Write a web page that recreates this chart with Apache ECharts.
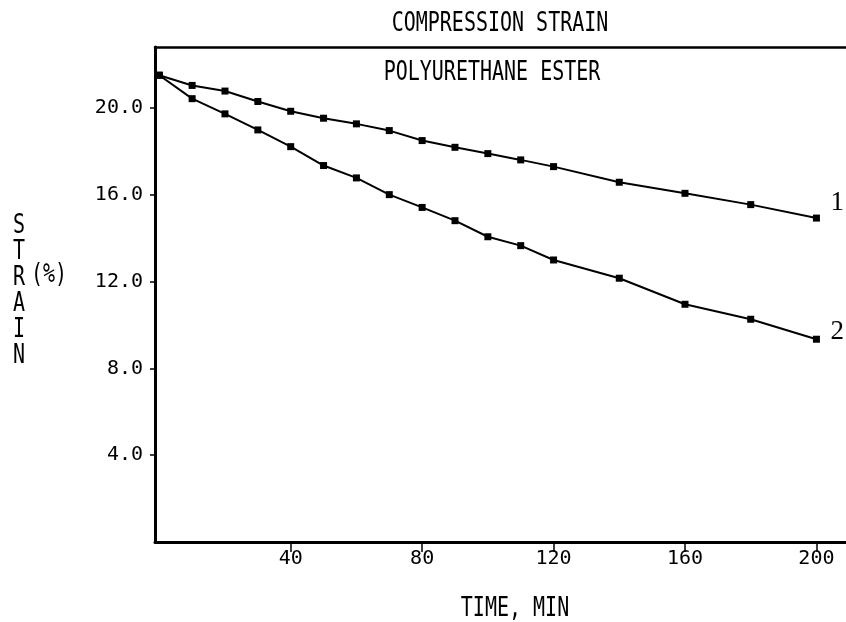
<!DOCTYPE html>
<html>
<head>
  <meta charset="utf-8" />
  <title>Compression strain</title>
  <script src="https://cdn.jsdelivr.net/npm/echarts@6/dist/echarts.min.js"></script>
  <style>
    html, body { margin: 0; padding: 0; background: #fff; }
    #main { width: 846px; height: 622px; }
  </style>
</head>
<body>
<div id="main"></div>
<script type="text/javascript">
  // time in minutes
  var time = [0, 10, 20, 30, 40, 50, 60, 70, 80, 90, 100, 110, 120, 140, 160, 180, 200];
  // curve 1 (upper) and curve 2 (lower), strain in %
  var strain1 = [21.5, 21.03, 20.77, 20.29, 19.84, 19.52, 19.26, 18.95, 18.49, 18.18, 17.89, 17.6, 17.29, 16.57, 16.06, 15.54, 14.92];
  var strain2 = [21.5, 20.42, 19.72, 18.98, 18.21, 17.34, 16.77, 16.0, 15.41, 14.8, 14.06, 13.65, 12.99, 12.15, 10.95, 10.26, 9.34];
  var xTicks = [40, 80, 120, 160, 200];
  var yTicks = [4, 8, 12, 16, 20];

  var mono = '"DejaVu Sans Mono", "Liberation Mono", monospace';

  function pairs(xs, ys) {
    var out = [];
    for (var i = 0; i < xs.length; i++) out.push([xs[i], ys[i]]);
    return out;
  }

  var lineStyle = { color: '#000', width: 2 };

  var chart = echarts.init(document.getElementById('main'));
  var option = {
    backgroundColor: '#fff',
    animation: false,
    grid: { left: 155, right: 0, top: 47, bottom: 80 },
    xAxis: [{
      type: 'value',
      min: -1.3,
      max: 209,
      axisLine: { show: true, onZero: false, lineStyle: { color: '#000', width: 3 } },
      axisTick: { show: true, customValues: xTicks, length: 10, lineStyle: { color: '#000', width: 1.5 } },
      axisLabel: { customValues: xTicks, color: '#000', fontFamily: mono, fontSize: 20, margin: 7 },
      splitLine: { show: false }
    }, {
      type: 'value',
      position: 'top',
      min: -1.3,
      max: 209,
      axisLine: { show: true, onZero: false, lineStyle: { color: '#000', width: 2.5 } },
      axisTick: { show: false },
      axisLabel: { show: false },
      splitLine: { show: false }
    }],
    yAxis: {
      type: 'value',
      min: 0,
      max: 22.8,
      axisLine: { show: true, onZero: false, lineStyle: { color: '#000', width: 3 } },
      axisTick: { show: true, customValues: yTicks, length: 5, lineStyle: { color: '#000', width: 1.5 } },
      axisLabel: {
        customValues: yTicks, color: '#000', fontFamily: mono, fontSize: 20, margin: 12,
        formatter: function (v) { return v.toFixed(1); }
      },
      splitLine: { show: false }
    },
    graphic: [
      { type: 'text', x: 500, y: 24, scaleY: 1.3,
        style: { text: 'COMPRESSION STRAIN', font: '20px ' + mono, fill: '#000', textAlign: 'center', textVerticalAlign: 'middle' } },
      { type: 'text', x: 492, y: 73, scaleY: 1.3,
        style: { text: 'POLYURETHANE ESTER', font: '20px ' + mono, fill: '#000', textAlign: 'center', textVerticalAlign: 'middle' } },
      { type: 'text', x: 515, y: 609, scaleY: 1.3,
        style: { text: 'TIME, MIN', font: '20px ' + mono, fill: '#000', textAlign: 'center', textVerticalAlign: 'middle' } },
      { type: 'text', x: 19, y: 291, scaleY: 1.3,
        style: { text: 'S\nT\nR\nA\nI\nN', font: '20px ' + mono, lineHeight: 20, fill: '#000', textAlign: 'center', textVerticalAlign: 'middle' } },
      { type: 'text', x: 31, y: 275, scaleY: 1.3,
        style: { text: '(%)', font: '20px ' + mono, fill: '#000', textAlign: 'left', textVerticalAlign: 'middle' } }
    ],
    series: [{
      name: '1',
      type: 'line',
      data: pairs(time, strain1),
      symbol: 'rect',
      symbolSize: 7,
      itemStyle: { color: '#000' },
      lineStyle: lineStyle,
      endLabel: { show: true, formatter: '1', color: '#000', fontFamily: '"Liberation Serif", serif', fontSize: 27, offset: [6, -15] }
    }, {
      name: '2',
      type: 'line',
      data: pairs(time, strain2),
      symbol: 'rect',
      symbolSize: 7,
      itemStyle: { color: '#000' },
      lineStyle: lineStyle,
      endLabel: { show: true, formatter: '2', color: '#000', fontFamily: '"Liberation Serif", serif', fontSize: 27, offset: [6, -7] }
    }]
  };
  chart.setOption(option);
</script>
</body>
</html>
